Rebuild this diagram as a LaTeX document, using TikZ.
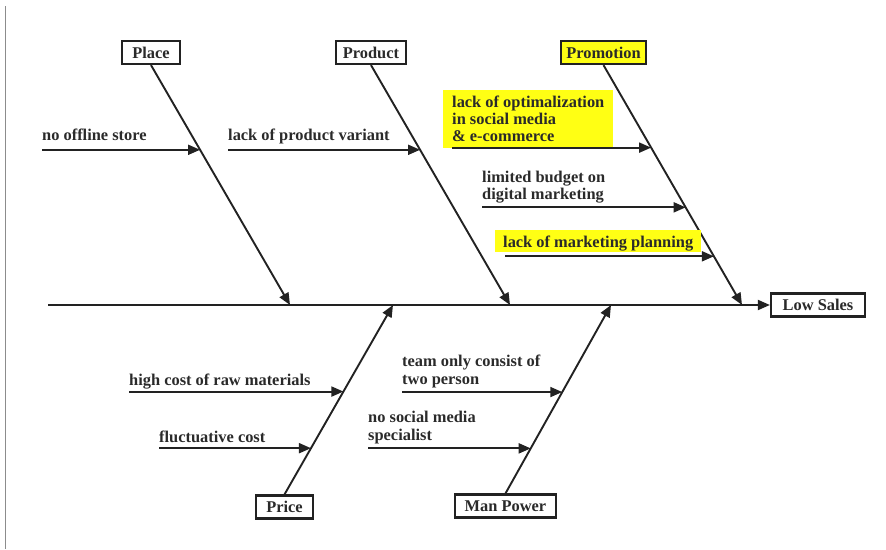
\documentclass[tikz,border=0pt]{standalone}
\usepackage{fontspec}
\setmainfont{Liberation Serif}
\usetikzlibrary{arrows.meta}

\definecolor{linea}{HTML}{222222}
\definecolor{texto}{HTML}{2A2A2A}
\definecolor{amarillo}{HTML}{FFFF14}

\begin{document}
\begin{tikzpicture}[x=1pt, y=-1pt, >={Triangle[length=12pt, width=10pt]},
    categoria/.style={draw=linea, line width=2.2pt, fill=white, text=texto,
      font=\bfseries\fontsize{16.4}{17}\selectfont, minimum height=23pt, inner sep=0pt},
    causa/.style={text=texto, font=\bfseries\fontsize{16.4}{17}\selectfont,
      align=left, inner sep=0pt, anchor=north west},
    resaltado/.style={fill=amarillo},
    hueso/.style={draw=linea, line width=1.9pt, ->},
    flecha/.style={draw=linea, line width=1.9pt, ->}]

      \useasboundingbox (0,0) rectangle (886,549);

      % Borde izquierdo
      \draw[black!45, line width=0.9pt] (5,6) -- (5,549);

      % Efecto y categorias
      \node[categoria, minimum width=94pt] (lowsales) at (818,305) {Low Sales};
      \node[categoria, minimum width=58pt] (place) at (151,52.5) {Place};
      \node[categoria, minimum width=70pt] (product) at (371,52.5) {Product};
      \node[categoria, minimum width=85pt, fill=amarillo] (promotion) at (603.5,52.5) {Promotion};
      \node[categoria, minimum width=57pt] (price) at (284.5,507) {Price};
      \node[categoria, minimum width=101pt] (manpower) at (505.5,506) {Man Power};

      % Espina principal
      \coordinate (cola) at (48,305);
      \draw[flecha] (cola) -- (lowsales.west);

      %-------------------------------------
      % HUESOS (con puntos para las causas)
      %-------------------------------------
      \coordinate (pPlace) at (290,305);
      \coordinate (pProduct) at (510,305);
      \coordinate (pPromotion) at (742,305);
      \coordinate (pPrice) at (393,305);
      \coordinate (pManPower) at (611,305);

      \draw[hueso] (place.south) -- coordinate[pos=.353] (tPlace) (pPlace);
      \draw[hueso] (product.south) -- coordinate[pos=.353] (tProduct) (pProduct);
      \draw[hueso] (promotion.south) -- coordinate[pos=.344] (tPromoA)
        coordinate[pos=.593] (tPromoB) coordinate[pos=.797] (tPromoC) (pPromotion);
      \draw[hueso] (price.north) -- coordinate[pos=.543] (tPriceA)
        coordinate[pos=.244] (tPriceB) (pPrice);
      \draw[hueso] (manpower.north) -- coordinate[pos=.538] (tManA)
        coordinate[pos=.239] (tManB) (pManPower);

      %-------------------------------------
      % CAUSAS
      %-------------------------------------
      \node[causa] (nooffline) at (42,129) {no offline store};
      \node[causa] (variant) at (228,129) {lack of product variant};
      \node[causa, resaltado, inner xsep=9pt, inner ysep=6pt] (optim) at (443,90)
        {lack of optimalization\\in social media\\\& e-commerce};
      \node[causa] (budget) at (482,171) {limited budget on\\digital marketing};
      \node[causa, resaltado, inner xsep=8pt, inner ysep=4pt, text height=13pt,
        text depth=1pt] (planning) at (495,230) {lack of marketing planning};
      \node[causa] (rawmat) at (129,374) {high cost of raw materials};
      \node[causa] (fluct) at (159,431) {fluctuative cost};
      \node[causa] (team) at (402,355) {team only consist of\\[1pt]two person};
      \node[causa] (social) at (368,411) {no social media\\[1pt]specialist};

      % Flechas de las causas
      \draw[flecha] (nooffline.west |- tPlace) -- (tPlace);
      \draw[flecha] (variant.west |- tProduct) -- (tProduct);
      \draw[flecha] ([xshift=9pt]optim.west |- tPromoA) -- (tPromoA);
      \draw[flecha] (budget.west |- tPromoB) -- (tPromoB);
      \draw[flecha] ([xshift=10pt]planning.west |- tPromoC) -- (tPromoC);
      \draw[flecha] (rawmat.west |- tPriceA) -- (tPriceA);
      \draw[flecha] (fluct.west |- tPriceB) -- (tPriceB);
      \draw[flecha] (team.west |- tManA) -- (tManA);
      \draw[flecha] (social.west |- tManB) -- (tManB);

    \end{tikzpicture}
\end{document}
